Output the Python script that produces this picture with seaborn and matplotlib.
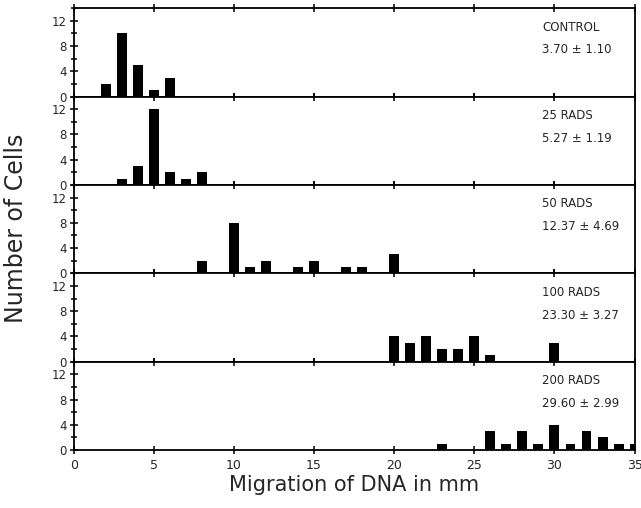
import pandas as pd
import matplotlib.pyplot as plt
import seaborn as sns
from matplotlib.ticker import MultipleLocator

# ---- data ----
panel_labels = ["CONTROL", "25 RADS", "50 RADS", "100 RADS", "200 RADS"]
panel_stats = ["3.70 \u00b1 1.10", "5.27 \u00b1 1.19", "12.37 \u00b1 4.69",
               "23.30 \u00b1 3.27", "29.60 \u00b1 2.99"]

control_mm = [2, 3, 4, 5, 6]
control_n = [2, 10, 5, 1, 3]

rads25_mm = [3, 4, 5, 6, 7, 8]
rads25_n = [1, 3, 12, 2, 1, 2]

rads50_mm = [8, 10, 11, 12, 14, 15, 17, 18, 20]
rads50_n = [2, 8, 1, 2, 1, 2, 1, 1, 3]

rads100_mm = [20, 21, 22, 23, 24, 25, 26, 30]
rads100_n = [4, 3, 4, 2, 2, 4, 1, 3]

rads200_mm = [23, 26, 27, 28, 29, 30, 31, 32, 33, 34, 35]
rads200_n = [1, 3, 1, 3, 1, 4, 1, 3, 2, 1, 1]

series = [(control_mm, control_n), (rads25_mm, rads25_n), (rads50_mm, rads50_n),
          (rads100_mm, rads100_n), (rads200_mm, rads200_n)]

sns.set_theme(style="ticks")
plt.rcParams['font.family'] = ['DejaVu Sans']

fig, axes = plt.subplots(5, 1, figsize=(6.41, 5.08), dpi=100, sharex=True)
fig.subplots_adjust(left=0.115, right=0.99, top=0.984, bottom=0.114, hspace=0)

for ax, (mm, n), lab, st in zip(axes, series, panel_labels, panel_stats):
    df = pd.DataFrame({"mm": mm, "n": n})
    sns.histplot(data=df, x="mm", weights="n", discrete=True, shrink=0.62,
                 color="black", alpha=1, edgecolor="black", linewidth=0, ax=ax)
    ax.set_xlim(0, 35)
    ax.set_ylim(0, 14)
    ax.set_yticks([0, 4, 8, 12])
    ax.yaxis.set_minor_locator(MultipleLocator(2))
    ax.xaxis.set_major_locator(MultipleLocator(5))
    ax.tick_params(axis="both", which="both", direction="inout", color="black",
                   labelsize=8.5, width=1.1)
    ax.tick_params(axis="y", which="major", length=6, pad=2)
    ax.tick_params(axis="y", which="minor", length=5)
    ax.tick_params(axis="x", which="major", length=6, top=True)
    ax.set_ylabel("")
    ax.set_xlabel("")
    for s in ax.spines.values():
        s.set_linewidth(1.3)
        s.set_color("black")
    ax.text(0.835, 0.86, lab, transform=ax.transAxes, fontsize=8.5,
            ha="left", va="top")
    ax.text(0.835, 0.60, st, transform=ax.transAxes, fontsize=8.5,
            ha="left", va="top")

axes[-1].set_xticks(range(0, 36, 5))
axes[-1].tick_params(axis="x", labelsize=9)
axes[-1].set_xlabel("Migration of DNA in mm", fontsize=15, labelpad=2)
fig.text(0.025, 0.55, "Number of Cells", rotation=90, fontsize=17,
         ha="center", va="center")

plt.savefig("out.png", dpi=100)
